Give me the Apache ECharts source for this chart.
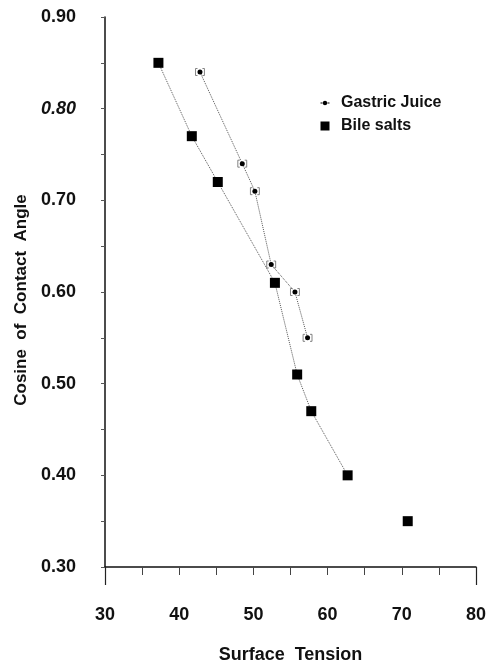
<!DOCTYPE html>
<html>
<head>
<meta charset="utf-8">
<script src="https://cdn.jsdelivr.net/npm/echarts@6/dist/echarts.min.js"></script>
<style>
html,body{margin:0;padding:0;background:#fff;}
#chart{width:489px;height:669px;}
</style>
</head>
<body>
<div id="chart"></div>
<script>
// ---- data ----
const gastricTension = [42.8, 48.5, 50.2, 52.4, 55.6, 57.3];
const gastricCosine  = [0.84, 0.74, 0.71, 0.63, 0.60, 0.55];
const gastricError   = [0.6, 0.6, 0.6, 0.6, 0.6, 0.6];
const bileTension = [37.2, 41.7, 45.2, 52.9, 55.9, 57.8, 62.7];
const bileCosine  = [0.85, 0.77, 0.72, 0.61, 0.51, 0.47, 0.40];
const bileLoneTension = [70.8];
const bileLoneCosine  = [0.35];
const seriesNames = ['Gastric Juice', 'Bile salts'];
const xTickLabels = [30, 40, 50, 60, 70, 80];
const yTickLabels = [0.30, 0.40, 0.50, 0.60, 0.70, 0.80, 0.90];

const zip = (a, b) => a.map((v, i) => [v, b[i]]);
const FONT = 'Liberation Sans, Arial, Helvetica, sans-serif';
const xMin = xTickLabels[0], xMax = xTickLabels[xTickLabels.length - 1];

const chart = echarts.init(document.getElementById('chart'), null, {renderer: 'canvas'});
const option = {
  animation: false,
  backgroundColor: '#fff',
  grid: {left: 105, right: 9, top: 17, bottom: 97, containLabel: false},
  legend: {
    orient: 'vertical',
    left: 315,
    top: 90,
    itemWidth: 16,
    itemHeight: 10,
    itemGap: 7,
    textStyle: {fontFamily: FONT, fontWeight: 'bold', fontSize: 16, color: '#111', lineHeight: 16},
    data: [
      {name: seriesNames[0], icon: 'path://M0,0M16,10M0.5,4.6H2.6V5.4H0.5ZM7.4,4.6H9.5V5.4H7.4ZM2.8,5A2.2,2.2,0,1,0,7.2,5A2.2,2.2,0,1,0,2.8,5Z'},
      {name: seriesNames[1], icon: 'path://M0,0M16,10M0.5,0.5H9.5V9.5H0.5Z'}
    ]
  },
  xAxis: [{
    type: 'value',
    min: xMin, max: xMax, interval: 10,
    name: 'Surface  Tension',
    nameLocation: 'middle',
    nameGap: 79,
    nameTextStyle: {fontFamily: FONT, fontWeight: 'bold', fontSize: 18, color: '#111'},
    axisLine: {show: true, onZero: false, lineStyle: {color: '#111', width: 1.5}},
    axisTick: {show: true, length: 8, lineStyle: {color: '#444', width: 1}},
    minorTick: {show: true, splitNumber: 2, length: 8, lineStyle: {color: '#444', width: 1}},
    axisLabel: {margin: 39, fontFamily: FONT, fontWeight: 'bold', fontSize: 18, color: '#111'},
    splitLine: {show: false}
  }, {
    type: 'value',
    position: 'bottom',
    min: xMin, max: xMax, interval: xMax - xMin,
    axisLine: {show: false},
    axisTick: {show: true, length: 18, lineStyle: {color: '#222', width: 1.2}},
    axisLabel: {show: false},
    splitLine: {show: false}
  }],
  yAxis: {
    type: 'value',
    min: yTickLabels[0], max: yTickLabels[yTickLabels.length - 1], interval: 0.1,
    name: 'Cosine  of  Contact  Angle',
    nameLocation: 'middle',
    nameGap: 74,
    nameTextStyle: {fontFamily: FONT, fontWeight: 'bold', fontSize: 17, color: '#111', padding: [0, 16, 0, 0]},
    axisLine: {show: true, onZero: false, lineStyle: {color: '#111', width: 1.5}},
    axisTick: {show: true, length: 4, lineStyle: {color: '#555', width: 1}},
    minorTick: {show: true, splitNumber: 2, length: 4, lineStyle: {color: '#555', width: 1}},
    axisLabel: {
      margin: 29, fontFamily: FONT, fontWeight: 'bold', fontSize: 18, color: '#111',
      formatter: v => Math.abs(v - 0.8) < 1e-6 ? '{it|' + v.toFixed(2) + '}' : v.toFixed(2),
      rich: {it: {fontFamily: FONT, fontWeight: 'bold', fontStyle: 'italic', fontSize: 18, color: '#111'}}
    },
    splitLine: {show: false}
  },
  series: [
    {
      name: seriesNames[0],
      type: 'line',
      data: zip(gastricTension, gastricCosine),
      symbol: 'circle',
      symbolSize: 5,
      itemStyle: {color: '#000', opacity: 1},
      lineStyle: {type: 'dotted', color: '#555', width: 1},
      z: 3
    },
    {
      name: seriesNames[0],
      type: 'custom',
      data: gastricTension.map((v, i) => [v, gastricCosine[i], gastricError[i]]),
      renderItem: function (params, api) {
        const x = api.value(0), y = api.value(1), e = api.value(2);
        const pl = api.coord([x - e, y]);
        const pr = api.coord([x + e, y]);
        const h = 3.5, w = 2;
        const st = {stroke: '#666', fill: null, lineWidth: 0.8};
        return {type: 'group', children: [
          {type: 'polyline', shape: {points: [[pl[0] + w, pl[1] - h], [pl[0], pl[1] - h], [pl[0], pl[1] + h], [pl[0] + w, pl[1] + h]]}, style: st},
          {type: 'polyline', shape: {points: [[pr[0] - w, pr[1] - h], [pr[0], pr[1] - h], [pr[0], pr[1] + h], [pr[0] - w, pr[1] + h]]}, style: st}
        ]};
      },
      z: 2
    },
    {
      name: seriesNames[1],
      type: 'line',
      data: zip(bileTension, bileCosine),
      symbol: 'rect',
      symbolSize: 10,
      itemStyle: {color: '#000', opacity: 1},
      lineStyle: {type: 'dotted', color: '#555', width: 1},
      z: 3
    },
    {
      name: seriesNames[1],
      type: 'scatter',
      data: zip(bileLoneTension, bileLoneCosine),
      symbol: 'rect',
      symbolSize: 10,
      itemStyle: {color: '#000', opacity: 1},
      z: 3
    }
  ]
};
chart.setOption(option);
</script>
</body>
</html>
